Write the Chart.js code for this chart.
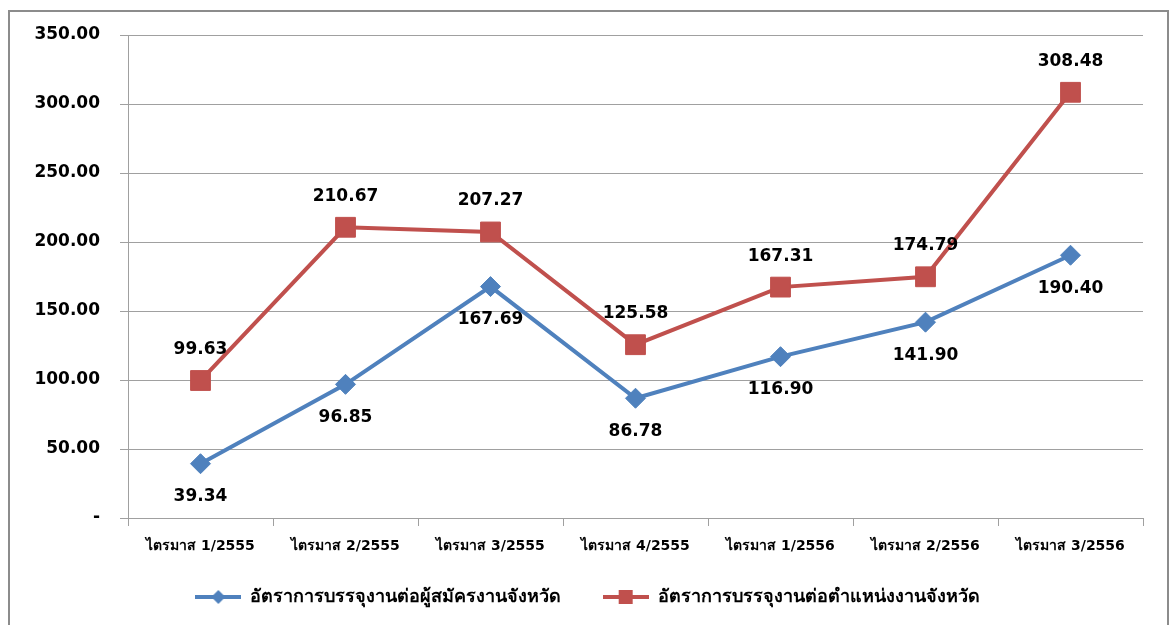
<!DOCTYPE html>
<html>
<head>
<meta charset="utf-8">
<script src="https://cdn.jsdelivr.net/npm/chart.js@4.4.0/dist/chart.umd.min.js"></script>
<style>
  html, body { margin: 0; padding: 0; background: #fff; }
  #frame {
    position: absolute; left: 8px; top: 10px; width: 1157px; height: 620px;
    border: 2px solid #8c8c8c; border-bottom: none;
  }
  #chart { position: absolute; left: 0; top: 0; }
</style>
</head>
<body>
<div id="frame"></div>
<canvas id="chart" width="1170" height="625"></canvas>
<script>
// quarters (Thai Buddhist years)
var categories = ['ไตรมาส 1/2555', 'ไตรมาส 2/2555', 'ไตรมาส 3/2555', 'ไตรมาส 4/2555',
                  'ไตรมาส 1/2556', 'ไตรมาส 2/2556', 'ไตรมาส 3/2556'];
var perApplicant = [39.34, 96.85, 167.69, 86.78, 116.90, 141.90, 190.40];
var perPosition = [99.63, 210.67, 207.27, 125.58, 167.31, 174.79, 308.48];
var seriesNames = ['อัตราการบรรจุงานต่อผู้สมัครงานจังหวัด', 'อัตราการบรรจุงานต่อตำแหน่งงานจังหวัด'];
var yTicks = [0, 50, 100, 150, 200, 250, 300, 350];

var BLUE = '#4f81bd';
var RED = '#c0504d';
var FONT = '"DejaVu Sans", Tahoma, sans-serif';

// legend symbol: short line with marker in the middle
function legendIcon(color, shape) {
    var c = document.createElement('canvas');
    c.width = 46; c.height = 20;
    var g = c.getContext('2d');
    g.strokeStyle = color; g.lineWidth = 4;
    g.beginPath(); g.moveTo(0, 10); g.lineTo(46, 10); g.stroke();
    g.fillStyle = color;
    g.beginPath();
    if (shape === 'diamond') {
        g.moveTo(23, 3); g.lineTo(30, 10); g.lineTo(23, 17); g.lineTo(16, 10);
    } else {
        g.rect(16, 3, 14, 14);
    }
    g.closePath(); g.fill();
    return c;
}
var icons = [legendIcon(BLUE, 'diamond'), legendIcon(RED, 'square')];

// value labels: blue below the point, red above
var valueLabels = {
    id: 'valueLabels',
    afterDatasetsDraw: function(chart) {
        var ctx = chart.ctx;
        ctx.save();
        ctx.font = 'bold 17px ' + FONT;
        ctx.fillStyle = '#000';
        ctx.textAlign = 'center';
        ctx.textBaseline = 'middle';
        chart.data.datasets.forEach(function(ds, i) {
            var meta = chart.getDatasetMeta(i);
            meta.data.forEach(function(pt, j) {
                var dy = i === 0 ? 33 : -31;
                ctx.fillText(ds.data[j].toFixed(2), pt.x, pt.y + dy);
            });
        });
        ctx.restore();
    }
};

new Chart(document.getElementById('chart').getContext('2d'), {
    type: 'line',
    data: {
        labels: categories,
        datasets: [{
            label: seriesNames[0],
            data: perApplicant,
            borderColor: BLUE,
            backgroundColor: BLUE,
            borderWidth: 4,
            pointStyle: 'rectRot',
            pointRadius: 10,
            pointBorderWidth: 1,
            tension: 0
        }, {
            label: seriesNames[1],
            data: perPosition,
            borderColor: RED,
            backgroundColor: RED,
            borderWidth: 4,
            pointStyle: 'rect',
            pointRadius: 14,
            pointBorderWidth: 1,
            tension: 0
        }]
    },
    options: {
        responsive: false,
        animation: false,
        layout: { padding: { left: 32, right: 27, top: 35, bottom: 9 } },
        plugins: {
            tooltip: { enabled: false },
            legend: {
                position: 'bottom',
                labels: {
                    usePointStyle: true,
                    pointStyleWidth: 46,
                    padding: 10,
                    color: '#000',
                    font: { family: FONT, size: 18, weight: 'bold' },
                    generateLabels: function(chart) {
                        return chart.data.datasets.map(function(ds, i) {
                            // trailing spaces widen the gap between the two entries
                            var txt = i === 0 ? ds.label + '\u00a0\u00a0\u00a0\u00a0\u00a0' : ds.label;
                            return { text: txt, pointStyle: icons[i], datasetIndex: i,
                                     fillStyle: ds.borderColor, strokeStyle: ds.borderColor, lineWidth: 0 };
                        });
                    }
                }
            }
        },
        scales: {
            x: {
                offset: true,
                grid: { offset: true, drawOnChartArea: false, color: '#a0a0a0', tickLength: 8 },
                border: { color: '#a0a0a0' },
                ticks: { color: '#000', padding: 12, maxRotation: 0,
                         font: { family: FONT, size: 14, weight: 'bold' } },
                afterFit: function(s) { s.height = 60; }
            },
            y: {
                min: 0, max: 350,
                afterBuildTicks: function(s) { s.ticks = yTicks.map(function(v) { return { value: v }; }); },
                grid: { color: '#a0a0a0', tickLength: 8 },
                border: { color: '#a0a0a0' },
                ticks: {
                    color: '#000', padding: 20,
                    font: { family: FONT, size: 17, weight: 'bold' },
                    callback: function(v) { return v === 0 ? '-' : v.toFixed(2); }
                },
                afterFit: function(s) { s.width = 96; }
            }
        }
    },
    plugins: [valueLabels]
});
</script>
</body>
</html>
